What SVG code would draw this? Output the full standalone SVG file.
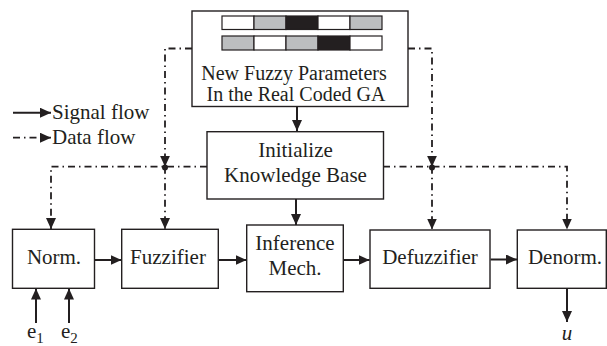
<svg xmlns="http://www.w3.org/2000/svg" width="607" height="346" viewBox="0 0 607 346">
<defs>
<marker id="ah" markerUnits="userSpaceOnUse" markerWidth="11" markerHeight="10" refX="11" refY="5" orient="auto">
<path d="M0,0 L11,5 L0,10 z" fill="#231f20"/>
</marker>
</defs>
<style>
.box{fill:#fff;stroke:#231f20;stroke-width:1.4}
.t{font-family:"Liberation Serif","Times New Roman",serif;font-size:21px;fill:#231f20;text-anchor:middle}
.s{font-size:20px}
.sig{fill:none;stroke:#231f20;stroke-width:2;marker-end:url(#ah)}
.dat{fill:none;stroke:#231f20;stroke-width:1.8;stroke-dasharray:7 4 1.5 4;marker-end:url(#ah)}
.w{fill:#fff;stroke:#231f20;stroke-width:1.2}
.g{fill:#bcbec0;stroke:#231f20;stroke-width:1.2}
.k{fill:#231f20;stroke:#231f20;stroke-width:1.2}
</style>
<g id="connectors">
<path class="sig" d="M297,106.5 V131"/>
<path class="sig" d="M296,199 V225"/>
<path class="sig" d="M94.5,260 H121.5"/>
<path class="sig" d="M218.5,260 H246.5"/>
<path class="sig" d="M343.5,260 H369.5"/>
<path class="sig" d="M490.5,259.5 H517"/>
<path class="sig" d="M36,323 V288.5"/>
<path class="sig" d="M69,323 V288.5"/>
<path class="sig" d="M567,288.5 V322"/>
<path class="dat" d="M192,48.5 H165 V166.7"/>
<path class="dat" d="M408,48.5 H432 V166.7"/>
<path class="dat" d="M207,166.7 H51 V229"/>
<path class="dat" d="M165,166.7 V229"/>
<path class="dat" d="M383,166.7 H567 V229.5"/>
<path class="dat" d="M432,166.7 V229.5"/>
<circle cx="165" cy="167.5" r="3" fill="#231f20"/>
<circle cx="432" cy="167.5" r="3" fill="#231f20"/>
</g>
<g id="legend">
<path class="sig" d="M13,112.7 H51"/>
<text class="t" x="52" y="118.5" style="text-anchor:start">Signal flow</text>
<path class="dat" d="M13,137.7 H51"/>
<text class="t" x="52" y="143.5" style="text-anchor:start">Data flow</text>
</g>
<g id="ga">
<rect class="box" x="192" y="11" width="216" height="95.5"/>
<rect class="w" x="222" y="16" width="32" height="13.5"/>
<rect class="g" x="254" y="16" width="32" height="13.5"/>
<rect class="k" x="286" y="16" width="32" height="13.5"/>
<rect class="w" x="318" y="16" width="32" height="13.5"/>
<rect class="g" x="350" y="16" width="32" height="13.5"/>
<rect class="g" x="222" y="36" width="32" height="14"/>
<rect class="w" x="254" y="36" width="32" height="14"/>
<rect class="g" x="286" y="36" width="32" height="14"/>
<rect class="k" x="318" y="36" width="32" height="14"/>
<rect class="w" x="350" y="36" width="32" height="14"/>
<text class="t s" x="294" y="79.5">New Fuzzy Parameters</text>
<text class="t s" x="296" y="101">In the Real Coded GA</text>
</g>
<g id="init">
<rect class="box" x="207" y="131.7" width="176.5" height="67.3"/>
<text class="t" x="295.5" y="157">Initialize</text>
<text class="t" x="295.5" y="181.5">Knowledge Base</text>
</g>
<g id="norm">
<rect class="box" x="12.5" y="229.3" width="82" height="59"/>
<text class="t" x="54" y="263.5">Norm.</text>
</g>
<g id="fuzz">
<rect class="box" x="121.7" y="229.3" width="96.6" height="59"/>
<text class="t" x="168" y="263.5">Fuzzifier</text>
</g>
<g id="inf">
<rect class="box" x="246.7" y="225" width="96.6" height="66.7"/>
<text class="t" x="295" y="250">Inference</text>
<text class="t" x="295" y="275">Mech.</text>
</g>
<g id="defuzz">
<rect class="box" x="370" y="230" width="120" height="58.3"/>
<text class="t" x="430" y="263.5">Defuzzifier</text>
</g>
<g id="denorm">
<rect class="box" x="517.3" y="230" width="89" height="58.3"/>
<text class="t" x="565" y="263.5">Denorm.</text>
</g>
<g id="labels">
<text class="t" x="27" y="337.5" style="text-anchor:start">e<tspan font-size="15" dy="5">1</tspan></text>
<text class="t" x="61" y="337.5" style="text-anchor:start">e<tspan font-size="15" dy="5">2</tspan></text>
<text class="t" x="567" y="340" font-style="italic">u</text>
</g>
</svg>
